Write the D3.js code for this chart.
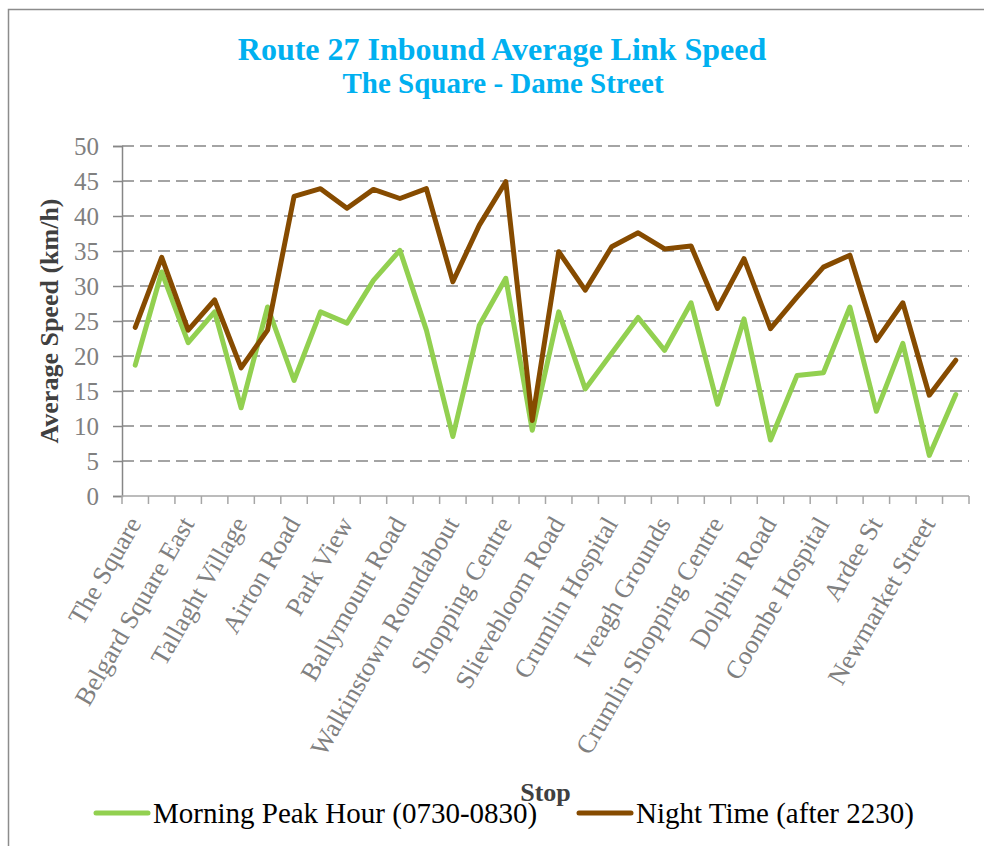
<!DOCTYPE html>
<html>
<head>
<meta charset="utf-8">
<script src="https://cdn.jsdelivr.net/npm/d3@7"></script>
<style>
  body { margin: 0; background: #fff; }
  svg { display: block; }
  text { font-family: "Liberation Serif", "Times New Roman", serif; }
</style>
</head>
<body>
<svg id="chart" width="984" height="846"></svg>
<script>
// Stop labels shown on the category axis (every second stop is labelled)
const tickLabels = [
  "The Square", "Belgard Square East", "Tallaght Village", "Airton Road",
  "Park View", "Ballymount Road", "Walkinstown Roundabout", "Shopping Centre",
  "Slievebloom Road", "Crumlin Hospital", "Iveagh Grounds", "Crumlin Shopping Centre",
  "Dolphin Road", "Coombe Hospital", "Ardee St", "Newmarket Street"
];

// Average link speed (km/h) per stop
const morningPeak = [
  18.7, 32.0, 21.9, 26.3, 12.6, 27.0, 16.5, 26.3, 24.7, 30.8,
  35.1, 23.7, 8.5, 24.4, 31.1, 9.4, 26.3, 15.3, 20.4, 25.5,
  20.8, 27.6, 13.1, 25.3, 8.0, 17.2, 17.6, 27.0, 12.1, 21.8,
  5.8, 14.5
];
const nightTime = [
  24.1, 34.1, 23.7, 28.0, 18.3, 23.7, 42.8, 43.9, 41.1, 43.8,
  42.5, 43.9, 30.6, 38.7, 44.9, 10.8, 34.9, 29.4, 35.6, 37.6,
  35.3, 35.7, 26.8, 33.9, 23.9, 28.4, 32.7, 34.4, 22.2, 27.6,
  14.4, 19.4
];

const yTicks = [0, 5, 10, 15, 20, 25, 30, 35, 40, 45, 50];
const seriesNames = ["Morning Peak Hour (0730-0830)", "Night Time (after 2230)"];
const seriesColors = ["#92D050", "#864B00"];

const svg = d3.select("#chart");
const plot = { left: 122, right: 969, top: 146, bottom: 496 };

const stops = d3.range(morningPeak.length);
const x = d3.scaleBand().domain(stops).range([plot.left, plot.right]);
const y = d3.scaleLinear().domain([0, 50]).range([plot.bottom, plot.top]);

// Outer frame (left and top edges)
svg.append("path")
  .attr("d", "M8.5,846V9.5H984")
  .attr("fill", "none")
  .attr("stroke", "#8c8c8c")
  .attr("stroke-width", 1.5);

// Title
svg.append("text")
  .attr("x", 502).attr("y", 60)
  .attr("text-anchor", "middle")
  .attr("font-size", 32).attr("font-weight", "bold")
  .attr("fill", "#00B0F0")
  .text("Route 27 Inbound Average Link Speed");
svg.append("text")
  .attr("x", 503).attr("y", 93)
  .attr("text-anchor", "middle")
  .attr("font-size", 29).attr("font-weight", "bold")
  .attr("fill", "#00B0F0")
  .text("The Square - Dame Street");

// Horizontal dashed gridlines
svg.append("g")
  .selectAll("line")
  .data(yTicks.filter(d => d > 0))
  .join("line")
  .attr("x1", plot.left).attr("x2", plot.right)
  .attr("y1", d => y(d)).attr("y2", d => y(d))
  .attr("stroke", "#868686")
  .attr("stroke-width", 1.5)
  .attr("stroke-dasharray", "12,6");

// Y axis
const yAxis = svg.append("g")
  .attr("transform", `translate(${plot.left},0)`)
  .call(d3.axisLeft(y).tickValues(yTicks).tickSize(9).tickPadding(14));
yAxis.select(".domain").attr("stroke", "#868686").attr("stroke-width", 1.5);
yAxis.selectAll(".tick line").attr("stroke", "#868686").attr("stroke-width", 1.5);
yAxis.selectAll(".tick text")
  .attr("font-family", "Liberation Serif, Times New Roman, serif")
  .attr("font-size", 25).attr("fill", "#808080");

// X axis: baseline and boundary tick marks
const xEdges = stops.map(i => x(i)).concat([plot.right]);
const xAxis = svg.append("g");
xAxis.append("line")
  .attr("x1", plot.left).attr("x2", plot.right)
  .attr("y1", plot.bottom).attr("y2", plot.bottom)
  .attr("stroke", "#a6a6a6").attr("stroke-width", 1.5);
xAxis.selectAll("line.tick")
  .data(xEdges)
  .join("line")
  .attr("class", "tick")
  .attr("x1", d => d).attr("x2", d => d)
  .attr("y1", plot.bottom).attr("y2", plot.bottom + 8)
  .attr("stroke", "#a6a6a6").attr("stroke-width", 1.5);

// Rotated stop labels on every second stop
xAxis.selectAll("text")
  .data(tickLabels)
  .join("text")
  .attr("transform", (d, k) => {
    const cx = x(k * 2) + x.bandwidth() / 2;
    return `translate(${cx - 1},${plot.bottom + 23}) rotate(-60)`;
  })
  .attr("text-anchor", "end")
  .attr("dy", "0.35em")
  .attr("font-size", 26)
  .attr("fill", "#808080")
  .text(d => d);

// Axis titles
svg.append("text")
  .attr("transform", `translate(57.5,${(plot.top + plot.bottom) / 2}) rotate(-90)`)
  .attr("text-anchor", "middle")
  .attr("font-size", 26).attr("font-weight", "bold")
  .attr("fill", "#404040")
  .text("Average Speed (km/h)");
svg.append("text")
  .attr("x", (plot.left + plot.right) / 2).attr("y", 801)
  .attr("text-anchor", "middle")
  .attr("font-size", 26).attr("font-weight", "bold")
  .attr("fill", "#404040")
  .text("Stop");

// Series lines
const line = d3.line()
  .x((d, i) => x(i) + x.bandwidth() / 2)
  .y(d => y(d));
[morningPeak, nightTime].forEach((values, s) => {
  svg.append("path")
    .datum(values)
    .attr("d", line)
    .attr("fill", "none")
    .attr("stroke", seriesColors[s])
    .attr("stroke-width", 5)
    .attr("stroke-linejoin", "round")
    .attr("stroke-linecap", "round");
});

// Legend
const legendItems = [
  { x1: 96, x2: 148, tx: 153 },
  { x1: 579, x2: 631, tx: 636 }
];
legendItems.forEach((item, s) => {
  svg.append("line")
    .attr("x1", item.x1).attr("x2", item.x2)
    .attr("y1", 813).attr("y2", 813)
    .attr("stroke", seriesColors[s])
    .attr("stroke-width", 5)
    .attr("stroke-linecap", "round");
  svg.append("text")
    .attr("x", item.tx).attr("y", 823)
    .attr("font-size", 29)
    .attr("fill", "#000")
    .text(seriesNames[s]);
});
</script>
</body>
</html>
